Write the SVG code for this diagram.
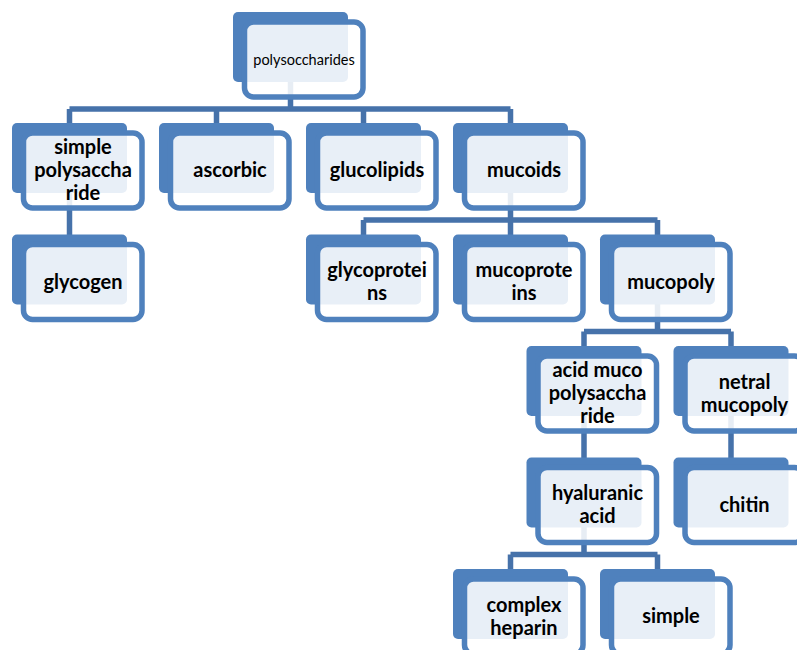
<svg xmlns="http://www.w3.org/2000/svg" width="797" height="650" viewBox="0 0 797 650">
<style>
.bk{fill:#4f81bd}
.fr{fill:#ffffff;fill-opacity:0.87;stroke:#4f81bd;stroke-width:5.5}
.t{font-family:Lato,"Open Sans","Liberation Sans",sans-serif;font-weight:bold;font-size:20px;fill:#000;text-anchor:middle}
.r{font-family:Lato,"Open Sans","Liberation Sans",sans-serif;font-size:14.5px;fill:#000;text-anchor:middle}
.c{fill:none;stroke:#4672aa;stroke-width:5.5}
</style>
<rect width="797" height="650" fill="#fff"/>
<g id="connectors">
<path class="c" d="M290.5 80V109M69.5 109H510.5M69.5 109V126M216.5 109V126M363.5 109V126M510.5 109V126"/>
<path class="c" d="M69.5 190V237"/>
<path class="c" d="M510.5 190V220M363.5 220H657.5M363.5 220V237M510.5 220V237M657.5 220V237"/>
<path class="c" d="M657.5 302V331.5M584 331.5H731M584 331.5V349M731 331.5V349"/>
<path class="c" d="M584 413V460M731 413V460"/>
<path class="c" d="M584 525V554.5M510.5 554.5H657.5M510.5 554.5V572M657.5 554.5V572"/>
</g>
<g id="polysoccharides"><rect class="bk" x="233" y="12" width="115" height="70" rx="5"/><rect class="fr" x="244.5" y="22" width="118.5" height="75" rx="9"/><text class="r" x="304" y="65">polysoccharides</text></g>
<g id="simple-polysaccharide"><rect class="bk" x="12" y="123" width="115" height="70" rx="5"/><rect class="fr" x="23.5" y="133" width="118.5" height="75" rx="9"/><text class="t" x="83" y="154">simple</text><text class="t" x="83" y="177">polysaccha</text><text class="t" x="83" y="200">ride</text></g>
<g id="ascorbic"><rect class="bk" x="159" y="123" width="115" height="70" rx="5"/><rect class="fr" x="170.5" y="133" width="118.5" height="75" rx="9"/><text class="t" x="230" y="177">ascorbic</text></g>
<g id="glucolipids"><rect class="bk" x="306" y="123" width="115" height="70" rx="5"/><rect class="fr" x="317.5" y="133" width="118.5" height="75" rx="9"/><text class="t" x="377" y="177">glucolipids</text></g>
<g id="mucoids"><rect class="bk" x="453" y="123" width="115" height="70" rx="5"/><rect class="fr" x="464.5" y="133" width="118.5" height="75" rx="9"/><text class="t" x="524" y="177">mucoids</text></g>
<g id="glycogen"><rect class="bk" x="12" y="234.5" width="115" height="70" rx="5"/><rect class="fr" x="23.5" y="244.5" width="118.5" height="75" rx="9"/><text class="t" x="83" y="288.5">glycogen</text></g>
<g id="glycoproteins"><rect class="bk" x="306" y="234.5" width="115" height="70" rx="5"/><rect class="fr" x="317.5" y="244.5" width="118.5" height="75" rx="9"/><text class="t" x="377" y="277">glycoprotei</text><text class="t" x="377" y="300">ns</text></g>
<g id="mucoproteins"><rect class="bk" x="453" y="234.5" width="115" height="70" rx="5"/><rect class="fr" x="464.5" y="244.5" width="118.5" height="75" rx="9"/><text class="t" x="524" y="277">mucoprote</text><text class="t" x="524" y="300">ins</text></g>
<g id="mucopoly"><rect class="bk" x="600" y="234.5" width="115" height="70" rx="5"/><rect class="fr" x="611.5" y="244.5" width="118.5" height="75" rx="9"/><text class="t" x="671" y="288.5">mucopoly</text></g>
<g id="acid-muco"><rect class="bk" x="526.5" y="346" width="115" height="70" rx="5"/><rect class="fr" x="538" y="356" width="118.5" height="75" rx="9"/><text class="t" x="597.5" y="377">acid muco</text><text class="t" x="597.5" y="400">polysaccha</text><text class="t" x="597.5" y="423">ride</text></g>
<g id="netral-mucopoly"><rect class="bk" x="673.5" y="346" width="115" height="70" rx="5"/><rect class="fr" x="685" y="356" width="118.5" height="75" rx="9"/><text class="t" x="744.5" y="388.5">netral</text><text class="t" x="744.5" y="411.5">mucopoly</text></g>
<g id="hyaluranic-acid"><rect class="bk" x="526.5" y="457.5" width="115" height="70" rx="5"/><rect class="fr" x="538" y="467.5" width="118.5" height="75" rx="9"/><text class="t" x="597.5" y="500">hyaluranic</text><text class="t" x="597.5" y="523">acid</text></g>
<g id="chitin"><rect class="bk" x="673.5" y="457.5" width="115" height="70" rx="5"/><rect class="fr" x="685" y="467.5" width="118.5" height="75" rx="9"/><text class="t" x="744.5" y="511.5">chitin</text></g>
<g id="complex-heparin"><rect class="bk" x="453" y="569" width="115" height="70" rx="5"/><rect class="fr" x="464.5" y="579" width="118.5" height="75" rx="9"/><text class="t" x="524" y="611.5">complex</text><text class="t" x="524" y="634.5">heparin</text></g>
<g id="simple"><rect class="bk" x="600" y="569" width="115" height="70" rx="5"/><rect class="fr" x="611.5" y="579" width="118.5" height="75" rx="9"/><text class="t" x="671" y="623">simple</text></g>
</svg>
